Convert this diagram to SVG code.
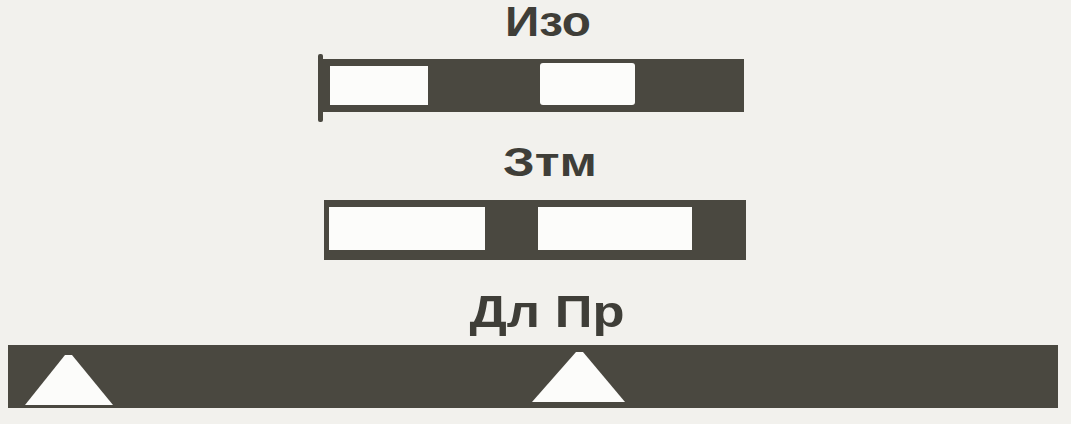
<svg xmlns="http://www.w3.org/2000/svg" width="1071" height="424" viewBox="0 0 1071 424">
  <style>
    .dark { fill: #4a4840; }
    .light { fill: #fcfcfa; }
    .lbl { font-family: "Liberation Sans", Arial, sans-serif; font-weight: bold; fill: #3f3e38; text-anchor: middle; }
  </style>
  <rect x="0" y="0" width="1071" height="424" fill="#f2f1ed"/>
  <g id="izo">
    <text class="lbl" x="548" y="36" font-size="42" textLength="86" lengthAdjust="spacingAndGlyphs">Изо</text>
    <rect class="dark" x="320" y="59" width="424" height="53"/>
    <rect class="dark" x="318" y="54" width="5" height="68" rx="2"/>
    <rect class="light" x="330" y="66" width="98" height="39"/>
    <rect class="light" x="540" y="63" width="95" height="42" rx="3"/>
  </g>
  <g id="ztm">
    <text class="lbl" x="550" y="176" font-size="40" textLength="94" lengthAdjust="spacingAndGlyphs">Зтм</text>
    <rect class="dark" x="324" y="200" width="422" height="60"/>
    <rect class="light" x="329" y="207" width="156" height="43"/>
    <rect class="light" x="538" y="207" width="154" height="43"/>
  </g>
  <g id="dlpr">
    <text class="lbl" x="547" y="327" font-size="44" textLength="155" lengthAdjust="spacingAndGlyphs">Дл Пр</text>
    <rect class="dark" x="8" y="345" width="1050" height="63"/>
    <polygon class="light" points="65,355 72,355 113,405 25,405"/>
    <polygon class="light" points="576,352 583,352 625,402 532,402"/>
  </g>
</svg>
